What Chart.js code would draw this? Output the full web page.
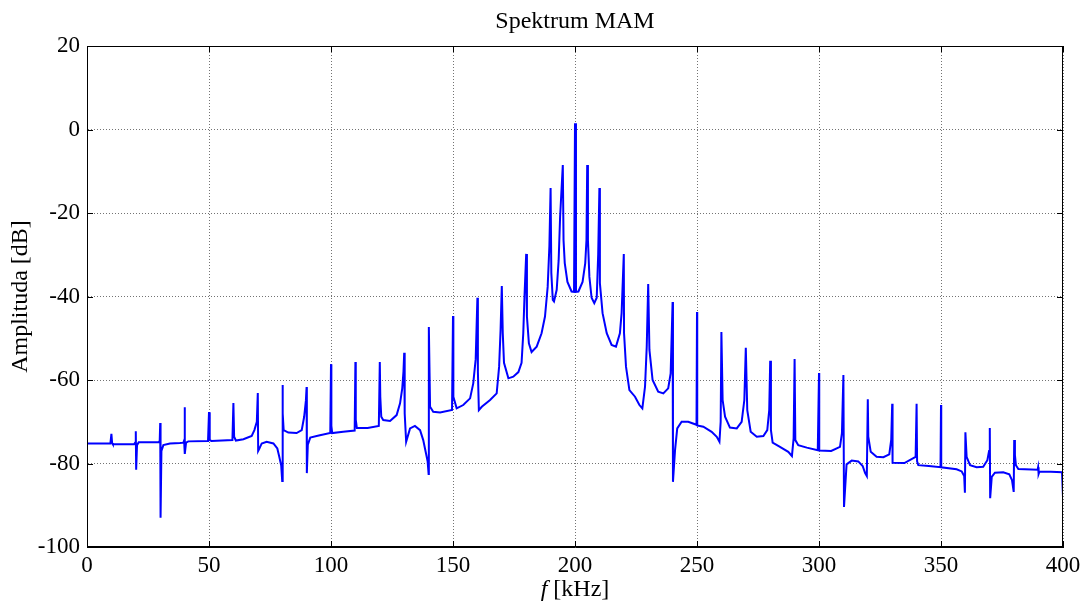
<!DOCTYPE html>
<html>
<head>
<meta charset="utf-8">
<title>Spektrum MAM</title>
<script src="https://cdn.jsdelivr.net/npm/chart.js@4.4.0/dist/chart.umd.min.js"></script>
<style>
  html, body { margin: 0; padding: 0; background: #fff; }
  canvas { display: block; }
</style>
</head>
<body>
<canvas id="chart" width="1089" height="602"></canvas>
<script>
// spectrum trace, frequency in kHz and amplitude in dB
// (one line per 10 kHz stretch, same layout in both arrays)
const freqKHz = [
  0, 9.6, 10, 10.3, 10.6,
  19.3, 19.7, 20, 20.15, 20.5, 21.2,
  29.4, 29.8, 30, 30.15, 30.5, 31.3, 34, 38.1,
  39.5, 39.8, 40, 40.15, 40.6, 41.5,
  49.6, 50, 50.3, 51,
  59.6, 60, 60.3, 61, 64.1, 67.5, 68.6, 69.6,
  70, 70.15, 70.6, 71.6, 73.6, 76.4, 78, 78.8, 79.6,
  80, 80.1, 80.3, 80.6, 82.5, 85.9, 88, 89, 89.7,
  90, 90.1, 90.5, 91.5, 95, 99.7,
  100, 100.15, 100.5, 105, 109.7,
  110, 110.15, 110.6, 115, 119.6,
  120, 120.2, 120.6, 121.4, 124.2, 126.9, 128.3, 129.2, 129.7,
  130, 130.2, 130.8, 132.4, 134.4, 136.5, 137.8, 138.9, 139.6,
  140, 140.1, 140.6, 141.9, 144.7, 149.6,
  150, 150.15, 151.5, 154.2, 157, 158.3, 159.3,
  160, 160.2, 160.6, 161.8, 165.2, 167.9, 168.9, 169.5,
  170, 170.4, 170.9, 172.7, 174.7, 176.8, 178.1, 178.8, 179.3,
  180, 180.3, 181.1, 182.2, 184.3, 186.3, 187.7, 188.8, 189.5,
  190, 190.3, 190.9, 191.4, 192.5, 193.3, 193.9,
  195, 195.3, 195.8, 196.9, 198.6, 199.6,
  200, 200.4, 201.4, 203.1, 204.2, 204.7,
  205, 205.3, 205.9, 206.8, 207.9, 208.9, 209.5,
  210, 210.2, 211.3, 213, 215, 216.8, 218.4, 219.1,
  220, 220.1, 220.9, 222.3, 224.6, 226.4, 227.6, 228.7, 229.4,
  230, 230.5, 231.8, 234.1, 236.2, 238.2, 239.2,
  240, 240.15, 241, 241.9, 243.7, 246.4, 249.2, 249.8,
  250, 250.1, 252.6, 256, 258.1, 259.2, 259.7,
  260, 260.5, 261.5, 263.5, 266.3, 268.3, 269.4,
  270, 270.6, 272, 274.5, 277.2, 278.8, 279.6,
  280, 280.3, 281, 284, 287.4, 288.9, 289.6,
  290, 290.3, 291.5, 295, 299.5,
  300, 300.1, 305, 308.6, 309.4,
  310, 310.25, 311.3, 313.4, 316.1, 317.9, 318.9, 319.6,
  320, 320.2, 321.2, 323.6, 326.4, 328.8, 329.6,
  330, 330.15, 335, 339.6,
  340, 340.2, 340.7, 345, 349.8,
  350, 350.1, 356.4, 358.5, 359.5, 359.8,
  360, 360.5, 361.9, 364.6, 367.3, 369, 369.7,
  370, 370.15, 370.8, 372.1, 375.5, 378, 379.1, 379.8,
  380, 380.3, 380.7, 381.7, 389.6, 389.8,
  390, 390.3, 395, 399.6, 400
];
const ampDB = [
  -75.2, -75.2, -72.9, -75.1, -75.4,
  -75.4, -75, -72.3, -81.5, -75.6, -74.9,
  -74.9, -74.6, -70.3, -93, -77, -75.6, -75.2, -75.1,
  -75, -74.5, -66.5, -77.7, -75, -74.7,
  -74.6, -67.7, -74.4, -74.6,
  -74.4, -65.5, -73.6, -74.5, -74.2, -73.4, -72, -70,
  -63.1, -77, -76.5, -75.2, -74.8, -75.2, -76.4, -78.4, -80.5,
  -84.2, -61.2, -68, -72, -72.6, -72.7, -72, -68.8, -65,
  -61.7, -82.3, -75.5, -73.8, -73.3, -72.7,
  -56.2, -71, -72.7, -72.4, -72.1,
  -55.7, -69.5, -71.5, -71.5, -71,
  -55.7, -64, -68.8, -69.6, -69.8, -68.4, -65.6, -62, -58,
  -53.5, -68, -74.8, -71.6, -71, -72, -74.4, -77.5, -79.5,
  -82.5, -47.3, -66.4, -67.6, -67.8, -67.2,
  -44.7, -64, -66.8, -66, -64.4, -60.8, -55,
  -40.3, -58, -67.2, -66.4, -64.8, -63.2, -56.8, -48,
  -37.5, -48.8, -55.9, -59.6, -59.2, -58.1, -55.9, -48.8, -40,
  -29.8, -44.8, -51.2, -53.3, -52, -48.8, -44.8, -37.7, -28,
  -14, -34.4, -40.8, -41.2, -38.4, -31.3, -20.9,
  -8.5, -26.5, -32, -36.5, -38.8, -38.9,
  1.5, -38.9, -38.8, -36.5, -32, -26.5,
  -8.5, -26.5, -35.3, -40.3, -41.6, -40.3, -30,
  -14, -36.8, -44, -48.8, -51.6, -52, -48.8, -44,
  -29.8, -48.8, -56.8, -62.4, -64, -66, -66.8, -61.6, -52,
  -37, -52.8, -60, -62.8, -63.2, -62, -58.4,
  -41.3, -84.4, -76.8, -71.6, -70, -70, -70.6, -70.8,
  -43.7, -70.9, -71.2, -72.4, -73.6, -74.8, -70,
  -48.5, -64.8, -68.8, -71.4, -71.6, -70, -64.8,
  -52.3, -67.2, -72.4, -73.6, -73.4, -72, -67.2,
  -55.4, -72, -75, -76, -77.2, -78.2, -74,
  -55, -74.4, -75.6, -76.2, -76.8,
  -58.3, -76.9, -77, -76, -72.7,
  -58.8, -90.4, -80.2, -79.3, -79.5, -80.6, -82.3, -83,
  -64.6, -73.6, -77.2, -78.4, -78.5, -77.8, -74.3,
  -65.7, -79.8, -79.9, -78.4,
  -65.7, -79.5, -80.4, -80.6, -80.9,
  -66, -80.9, -81.4, -81.9, -83, -87,
  -72.5, -78.4, -80.4, -80.9, -80.8, -79.2, -77,
  -71.5, -88.3, -83.2, -82.2, -82.1, -82.6, -84, -86.8,
  -74.4, -78, -80.4, -81.3, -81.5, -80.9,
  -82.5, -82, -82, -82.1, -88
];
const xTicks = [0, 50, 100, 150, 200, 250, 300, 350, 400];
const yTicks = [-100, -80, -60, -40, -20, 0, 20];

const chartTitle = 'Spektrum MAM';
const yTitle = 'Amplituda [dB]';
const xTitleVar = 'f';
const xTitleUnit = '[kHz]';

const serif = '"Liberation Serif", "Times New Roman", serif';

// MATLAB style frame: solid box with ticks pointing inwards, plus title and axis titles
const framePlugin = {
  id: 'frame',
  afterDraw(chart) {
    const { ctx, chartArea: a, scales } = chart;
    ctx.save();
    ctx.strokeStyle = '#000';
    ctx.lineWidth = 1;
    ctx.setLineDash([]);
    ctx.strokeRect(a.left + 0.5, a.top + 0.5, a.right - a.left - 1, a.bottom - a.top - 1);
    ctx.beginPath();
    xTicks.forEach(v => {
      const x = Math.round(scales.x.getPixelForValue(v)) + 0.5;
      ctx.moveTo(x, a.bottom); ctx.lineTo(x, a.bottom - 6);
      ctx.moveTo(x, a.top); ctx.lineTo(x, a.top + 6);
    });
    yTicks.forEach(v => {
      const y = Math.round(scales.y.getPixelForValue(v)) + 0.5;
      ctx.moveTo(a.left, y); ctx.lineTo(a.left + 6, y);
      ctx.moveTo(a.right, y); ctx.lineTo(a.right - 6, y);
    });
    ctx.stroke();

    const cx = (a.left + a.right) / 2;
    ctx.fillStyle = '#000';
    ctx.textBaseline = 'middle';
    ctx.textAlign = 'center';
    ctx.font = '24px ' + serif;
    ctx.fillText(chartTitle, cx, 22);

    // x title, italic variable name
    ctx.font = 'italic 24px ' + serif;
    const w1 = ctx.measureText(xTitleVar + ' ').width;
    ctx.font = '24px ' + serif;
    const w2 = ctx.measureText(xTitleUnit).width;
    const x0 = cx - (w1 + w2) / 2;
    ctx.textAlign = 'left';
    ctx.font = 'italic 24px ' + serif;
    ctx.fillText(xTitleVar, x0, 590);
    ctx.font = '24px ' + serif;
    ctx.fillText(xTitleUnit, x0 + w1, 590);

    // y title
    ctx.translate(21, (a.top + a.bottom) / 2);
    ctx.rotate(-Math.PI / 2);
    ctx.textAlign = 'center';
    ctx.fillText(yTitle, 0, 0);
    ctx.restore();
  }
};

const points = freqKHz.map((f, i) => ({ x: f, y: ampDB[i] }));

new Chart(document.getElementById('chart'), {
  type: 'line',
  data: {
    datasets: [{
      data: points,
      borderColor: '#0000ff',
      borderWidth: 2,
      pointRadius: 0,
      tension: 0,
      fill: false
    }]
  },
  options: {
    responsive: false,
    animation: false,
    layout: { padding: { left: 0, right: 26, top: 46, bottom: 0 } },
    plugins: {
      legend: { display: false },
      tooltip: { enabled: false },
      title: { display: false }
    },
    scales: {
      x: {
        type: 'linear',
        min: 0,
        max: 400,
        afterBuildTicks: s => { s.ticks = xTicks.map(v => ({ value: v })); },
        afterFit: s => { s.height = 55; },
        ticks: {
          color: '#000',
          font: { family: serif, size: 23 },
          padding: 5,
          maxRotation: 0,
          autoSkip: false
        },
        grid: { color: 'rgba(0,0,0,0.55)', lineWidth: 1, drawTicks: false },
        border: { display: true, color: '#000', dash: [1, 2] }
      },
      y: {
        min: -100,
        max: 20,
        afterBuildTicks: s => { s.ticks = yTicks.map(v => ({ value: v })); },
        afterFit: s => { s.width = 87; },
        ticks: {
          color: '#000',
          font: { family: serif, size: 23 },
          padding: 7
        },
        grid: { color: 'rgba(0,0,0,0.55)', lineWidth: 1, drawTicks: false },
        border: { display: true, color: '#000', dash: [1, 2] }
      }
    }
  },
  plugins: [framePlugin]
});
</script>
</body>
</html>
